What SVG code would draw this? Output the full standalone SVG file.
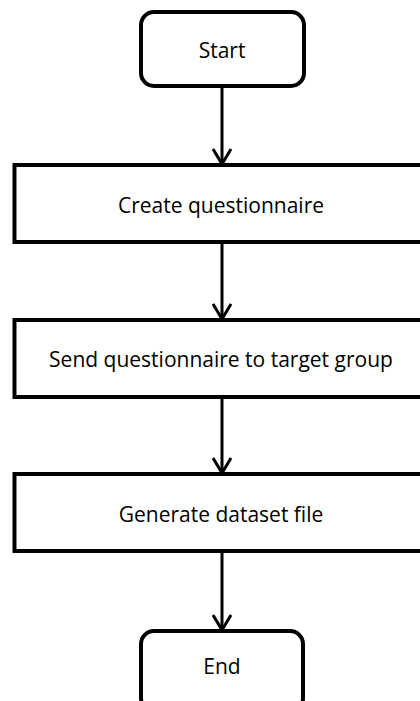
<svg xmlns="http://www.w3.org/2000/svg" width="420" height="701" viewBox="0 0 420 701">
<defs>
<style>
.node{fill:#fff;stroke:#000;stroke-width:4}
.lbl{font-family:"Open Sans","Noto Sans",sans-serif;font-size:21px;fill:#000;text-anchor:middle}
.edge{stroke:#000;stroke-width:3;fill:none}
</style>
<marker id="arr" viewBox="0 0 20 20" refX="17" refY="10" markerWidth="20" markerHeight="20" markerUnits="userSpaceOnUse" orient="auto">
<path d="M2,1 L17,10 L2,19" fill="none" stroke="#000" stroke-width="3"/>
</marker>
</defs>
<rect width="420" height="701" fill="#fff"/>
<g id="connectors">
<path class="edge" d="M222,86 V164" marker-end="url(#arr)"/>
<path class="edge" d="M222,242 V319" marker-end="url(#arr)"/>
<path class="edge" d="M222,397 V473" marker-end="url(#arr)"/>
<path class="edge" d="M222,551 V630" marker-end="url(#arr)"/>
</g>
<g id="start">
<rect class="node" x="141" y="12" width="163" height="74" rx="13"/>
<text class="lbl" x="222" y="58">Start</text>
</g>
<g id="create">
<rect class="node" x="14.5" y="165" width="415" height="77"/>
<text class="lbl" x="221" y="213">Create questionnaire</text>
</g>
<g id="send">
<rect class="node" x="14.5" y="320" width="415" height="77"/>
<text class="lbl" x="221" y="367">Send questionnaire to target group</text>
</g>
<g id="generate">
<rect class="node" x="14.5" y="474" width="415" height="77"/>
<text class="lbl" x="221" y="522">Generate dataset file</text>
</g>
<g id="end">
<rect class="node" x="141" y="631" width="162" height="80" rx="13"/>
<text class="lbl" x="222" y="674">End</text>
</g>
</svg>
